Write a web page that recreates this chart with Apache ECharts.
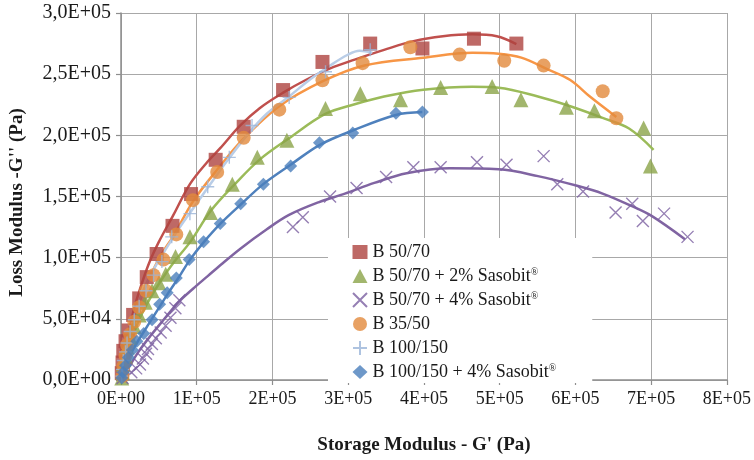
<!DOCTYPE html>
<html><head><meta charset="utf-8">
<script src="https://cdn.jsdelivr.net/npm/echarts@6/dist/echarts.min.js"></script>
<style>html,body{margin:0;padding:0;background:#fff}#c{width:754px;height:460px}</style>
</head><body><div id="c"></div>
<script>
const xTickLabels = ['0E+00','1E+05','2E+05','3E+05','4E+05','5E+05','6E+05','7E+05','8E+05'];
const yTickLabels = ['0,0E+00','5,0E+04','1,0E+05','1,5E+05','2,0E+05','2,5E+05','3,0E+05'];
const seriesNames = ['B 50/70','B 50/70 + 2% Sasobit','B 50/70 + 4% Sasobit','B 35/50','B 100/150','B 100/150 + 4% Sasobit'];

// B 50/70
const b5070_G1 = [1000,2000,3000,6000,10000,16000,24000,34000,47000,68000,92500,125000,162000,214000,266000,329000,398000,466000,522000];
const b5070_G2 = [5600,14300,23800,31700,40500,53200,66700,84100,103000,126000,152000,180000,207000,237000,260000,275000,271000,279000,275000];
const b5070_fitG1 = [0,3234,8409,16171,25228,36870,49807,69212,91203,114490,131308,157180,183050,214110,243865,276206,308548,347358,386170,424980,463790,496130,522010];
const b5070_fitG2 = [0,15873,33333,55556,74603,95238,112698,134920,160317,178571,189683,207937,222222,234921,245238,254762,261905,269841,276984,280952,282540,280952,274603];

// B 50/70 + 2% Sasobit
const s2_G1 = [1000,2000,3000,6000,8000,12000,17500,24000,32000,41000,50000,59000,72000,91000,118000,147000,180000,219000,270000,316000,369000,422000,490000,528000,588000,625000,690000,699000];
const s2_G2 = [1600,6300,12700,19000,27000,34900,43700,53200,63500,73000,79400,86500,101000,117000,137000,160000,182000,196000,222000,234000,229000,239000,240000,229000,223000,220000,206000,175000];
const s2_fitG1 = [0,5822,13584,23933,36870,52394,70506,91203,118370,150710,183050,221870,269730,308540,347350,399100,463790,498720,550470,593160,635850,670780,703120];
const s2_fitG2 = [0,15873,31746,49206,65079,80952,96825,112698,138095,160317,180159,197619,217460,225397,231746,237302,239683,238889,231746,223810,214286,205556,188095];

// B 50/70 + 4% Sasobit
const s4_G1 = [2000,13600,20000,25000,29000,33000,35600,40800,46000,52400,58900,65300,71800,77000,227000,240000,276000,311000,350000,386000,422000,470000,509000,558000,576000,610000,653000,675000,689000,717000,748000];
const s4_G2 = [1600,6300,9500,12700,17500,21400,25400,29400,34100,38900,44400,50800,58700,65100,125000,133000,150000,157000,166000,174000,174000,178000,176000,183000,160000,154000,137000,144000,130000,136000,117000];
const s4_fitG1 = [0,10996,23933,39457,56275,75681,95085,114490,133900,157180,192110,221870,260680,295610,334420,377110,434040,498720,550470,602220,635850,674670,700540,744530];
const s4_fitG2 = [0,11111,23810,36508,49206,63492,74603,84921,95238,107143,123016,134921,145238,152381,161111,169048,173016,172222,166667,158730,152381,142063,134127,115079];

// B 35/50
const b3550_G1 = [2000,3000,6000,8000,12000,17500,24000,33000,43000,56000,73000,95000,127000,162000,209000,266000,319000,382000,447000,506000,558000,636000,654000];
const b3550_G2 = [3200,11100,19800,28600,37300,47600,59500,73000,85700,98400,119000,147000,170000,198000,221000,245000,259000,272000,266000,261000,257000,236000,214000];
const b3550_fitG1 = [0,5822,13584,23933,36870,52394,70506,95085,127430,162360,208930,267150,321480,399100,463790,498720,528480,563400,593160,619030,653960];
const b3550_fitG2 = [0,20635,42857,63492,82540,101587,119048,146032,172222,197619,223810,244444,257143,263492,267460,266667,263492,253968,245238,231746,215079];

// B 100/150
const b100_G1 = [1000,2000,3000,6000,8000,12000,17500,24000,33000,43000,54000,67000,91000,114500,143000,173000,222000,270000,329000];
const b100_G2 = [3200,8700,15900,23000,30200,39700,49200,60300,73000,85700,96800,117000,136000,158000,182000,208000,231000,252000,270000];
const b100_fitG1 = [0,4528,10996,20053,31695,44633,60157,78269,96380,114490,140370,166240,192110,221870,250330,276200,299490,315010,331830];
const b100_fitG2 = [0,15873,34921,57143,76190,92063,107937,125397,141270,157143,179365,200000,217460,231746,246032,257143,265873,269048,267460];

// B 100/150 + 4% Sasobit
const b100s4_G1 = [1000,3000,6000,9700,15000,21000,30000,41000,51000,61000,73000,90000,109000,131000,158000,188000,224000,262000,306000,363000,398000];
const b100s4_G2 = [1600,6300,11900,18300,24600,31700,38100,49200,61900,71400,83300,98400,113000,128000,144000,160000,175000,194000,202000,218000,219000];
const b100s4_fitG1 = [0,5822,13584,23933,36870,49807,62744,75681,91203,109320,131310,158470,188220,224460,261970,305960,362890,397820];
const b100s4_fitG2 = [0,11111,22222,33333,46032,58730,71429,83333,98413,112698,127778,143651,160317,176190,192063,203968,216667,219048];

const zip = (a, b) => a.map((v, i) => [v, b[i]]);
const FONT = "'Liberation Serif','Times New Roman',serif";
const CROSS = 'path://M0,0L10,10M10,0L0,10';
const PLUS = 'path://M5,0L5,10M0,5L10,5';

const defs = [
  {name: seriesNames[0], x: b5070_G1, y: b5070_G2, fx: b5070_fitG1, fy: b5070_fitG2, symbol: 'rect', size: 14, mcolor: '#AE4340', lcolor: '#C0504D'},
  {name: seriesNames[1], x: s2_G1, y: s2_G2, fx: s2_fitG1, fy: s2_fitG2, symbol: 'triangle', size: 15, mcolor: '#8BA449', lcolor: '#9BBB59'},
  {name: seriesNames[2], x: s4_G1, y: s4_G2, fx: s4_fitG1, fy: s4_fitG2, symbol: CROSS, size: 12, mcolor: '#7B5FA0', lcolor: '#8064A2', stroke: true},
  {name: seriesNames[3], x: b3550_G1, y: b3550_G2, fx: b3550_fitG1, fy: b3550_fitG2, symbol: 'circle', size: 14, mcolor: '#E2893C', lcolor: '#F79646'},
  {name: seriesNames[4], x: b100_G1, y: b100_G2, fx: b100_fitG1, fy: b100_fitG2, symbol: PLUS, size: 13, mcolor: '#9AB4D8', lcolor: '#B9CDE7', stroke: true},
  {name: seriesNames[5], x: b100s4_G1, y: b100s4_G2, fx: b100s4_fitG1, fy: b100s4_fitG2, symbol: 'diamond', size: 13, mcolor: '#4A7EBB', lcolor: '#4F81BD'}
];

const series = [];
defs.forEach(d => {
  series.push({
    type: 'line', name: d.name + ' fit', data: zip(d.fx, d.fy), showSymbol: false, smooth: 0.35,
    lineStyle: {width: 2.5, color: d.lcolor}, z: 2, silent: true
  });
});
defs.forEach(d => {
  series.push({
    type: 'scatter', name: d.name, data: zip(d.x, d.y), symbol: d.symbol, symbolSize: d.size, z: 3,
    itemStyle: d.stroke ? {color: 'rgba(0,0,0,0)', borderColor: d.mcolor, borderWidth: 1.4} : {color: d.mcolor}
  });
});

const chart = echarts.init(document.getElementById('c'), null, {renderer: 'canvas'});
chart.setOption({
  animation: false,
  backgroundColor: '#fff',
  grid: {left: 111.5, right: 25, top: 13, bottom: 68, containLabel: false},
  xAxis: {
    type: 'value', min: 0, max: 800000, interval: 100000,
    name: "Storage Modulus - G' (Pa)", nameLocation: 'middle', nameGap: 56,
    nameTextStyle: {fontFamily: FONT, fontWeight: 'bold', fontSize: 19, color: '#1a1a1a'},
    axisLine: {show: true, lineStyle: {color: '#8E8E8E', width: 1.5}},
    axisTick: {show: true, length: 5, lineStyle: {color: '#8E8E8E', width: 1.2}},
    splitLine: {show: true, lineStyle: {color: '#A8A8A8', width: 1}},
    axisLabel: {margin: 10, fontFamily: FONT, fontSize: 18, color: '#1a1a1a',
      formatter: v => xTickLabels[Math.round(v / 100000)]}
  },
  yAxis: {
    type: 'value', min: 0, max: 300000, interval: 50000,
    name: "Loss Modulus -G'' (Pa)", nameLocation: 'middle', nameGap: 94, nameRotate: 90,
    nameTextStyle: {fontFamily: FONT, fontWeight: 'bold', fontSize: 19, color: '#1a1a1a', padding: [0, 12, 0, 0]},
    axisLine: {show: true, lineStyle: {color: '#8E8E8E', width: 1.5}},
    axisTick: {show: true, length: 5, lineStyle: {color: '#8E8E8E', width: 1.2}},
    splitLine: {show: true, lineStyle: {color: '#A8A8A8', width: 1}},
    axisLabel: {margin: 10, fontFamily: FONT, fontSize: 20, color: '#1a1a1a',
      formatter: v => yTickLabels[Math.round(v / 50000)]}
  },
  legend: {
    data: seriesNames, orient: 'vertical', left: 328, top: 238,
    padding: [5, 36, 2, 24], itemGap: 6, itemWidth: 15, itemHeight: 14,
    backgroundColor: '#fff', borderWidth: 0,
    formatter: n => n.indexOf('Sasobit') >= 0 ? '{t|' + n + '}{s|®}' : '{t|' + n + '}',
    textStyle: {fontFamily: FONT, fontSize: 18, color: '#1a1a1a',
      rich: {t: {fontFamily: FONT, fontSize: 18, color: '#1a1a1a'},
             s: {fontFamily: FONT, fontSize: 10, color: '#1a1a1a', verticalAlign: 'top'}}}
  },
  series: series
});
</script></body></html>
